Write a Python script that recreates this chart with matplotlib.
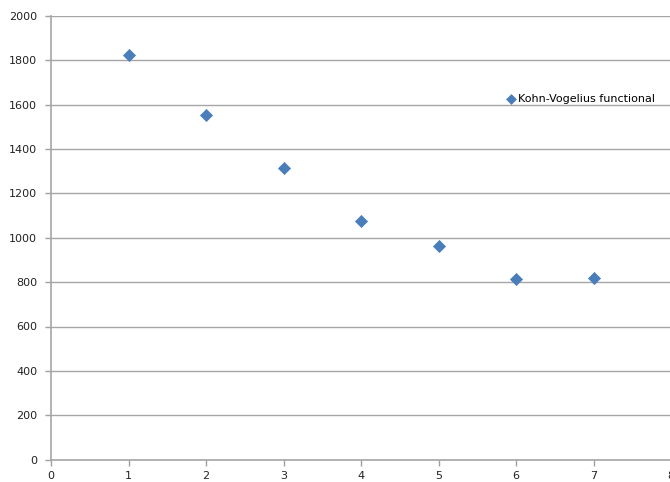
import matplotlib
matplotlib.use("Agg")
import matplotlib.pyplot as plt

# values
step = [1, 2, 3, 4, 5, 6, 7]
functional = [1824, 1553, 1314, 1075, 962, 813, 817]
x_ticks = [0, 1, 2, 3, 4, 5, 6, 7, 8]
y_ticks = [0, 200, 400, 600, 800, 1000, 1200, 1400, 1600, 1800, 2000]

plt.rcParams['font.family'] = ['DejaVu Sans']

fig = plt.figure(figsize=(6.7, 4.82), dpi=100)
ax = fig.add_axes([51 / 670, 22.3 / 482, 620 / 670, 444 / 482])

ax.scatter(step, functional, marker='D', s=38, color='#4a7ebb',
           edgecolors='#4a7ebb', linewidths=0.5, zorder=3,
           label='Kohn-Vogelius functional')

ax.set_xlim(0, 8)
ax.set_ylim(0, 2000)
ax.set_xticks(x_ticks)
ax.set_yticks(y_ticks)
ax.tick_params(labelsize=8, colors='#222222', length=4, width=1)
ax.tick_params(axis='x', color='#a0a0a0', pad=4)
ax.tick_params(axis='y', color='#a0a0a0', pad=6)

ax.grid(axis='y', color='#a6a6a6', linewidth=1)
ax.set_axisbelow(True)
for side in ['top', 'right']:
    ax.spines[side].set_visible(False)
for side in ['left', 'bottom']:
    ax.spines[side].set_color('#a6a6a6')
    ax.spines[side].set_linewidth(1.2)

leg = ax.legend(loc='center left', bbox_to_anchor=(0.724, 0.812), frameon=False,
                fontsize=8, handletextpad=0.0, handlelength=1.2,
                borderaxespad=0)
leg.legend_handles[0].set_sizes([25])

fig.savefig('out.png', dpi=100)
